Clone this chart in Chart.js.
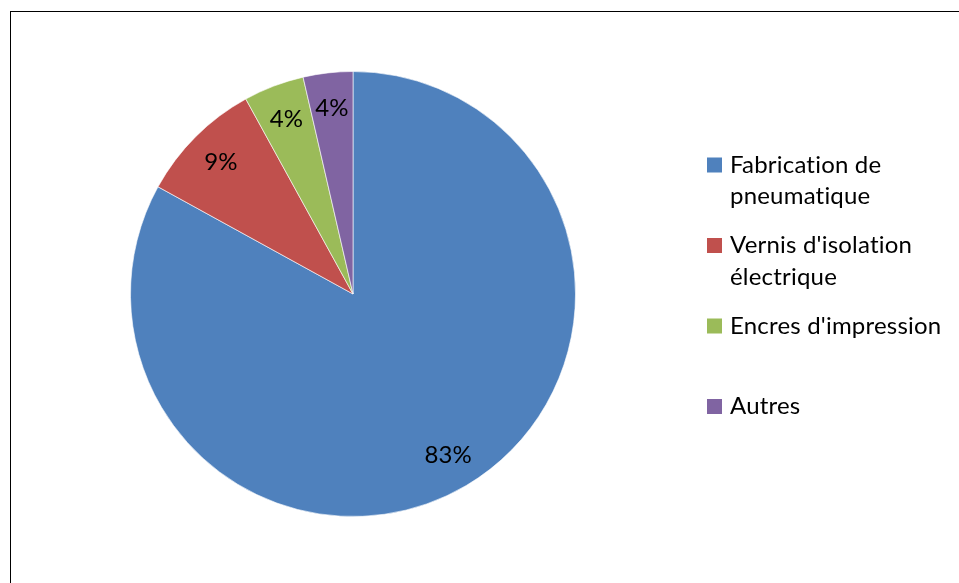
<!DOCTYPE html>
<html>
<head>
<meta charset="utf-8">
<script src="https://cdn.jsdelivr.net/npm/chart.js@4.4.1/dist/chart.umd.min.js"></script>
<style>
  html, body { margin: 0; padding: 0; background: #fff; overflow: hidden; }
  #wrap { position: relative; width: 959px; height: 583px; }
  #frame { position: absolute; left: 10px; top: 11px; width: 960px; height: 600px; border: 1.5px solid #000; box-sizing: border-box; }
  #c { position: absolute; left: 0; top: 0; }
</style>
</head>
<body>
<div id="wrap">
  <div id="frame"></div>
  <canvas id="c" width="959" height="583"></canvas>
</div>
<script>
// Data
const categories = [
  ["Fabrication de", "pneumatique"],
  ["Vernis d'isolation", "électrique"],
  ["Encres d'impression"],
  ["Autres"]
];
const shares = [83.0, 9.0, 4.4, 3.6];
const sliceColors = ["#4F81BD", "#C0504D", "#9BBB59", "#8064A2"];

const FONT = "Lato, 'Open Sans', sans-serif";

const labelPlugin = {
  id: 'sliceLabels',
  afterDatasetsDraw(chart) {
    const ctx = chart.ctx;
    const meta = chart.getDatasetMeta(0);
    const data = chart.data.datasets[0].data;
    const total = data.reduce((a, b) => a + b, 0);
    ctx.save();
    ctx.font = "24px " + FONT;
    ctx.fillStyle = "#000";
    ctx.textAlign = "center";
    ctx.textBaseline = "middle";
    meta.data.forEach((arc, i) => {
      const p = arc.getProps(['x', 'y', 'startAngle', 'endAngle', 'outerRadius'], true);
      const mid = (p.startAngle + p.endAngle) / 2;
      const r = p.outerRadius * 0.84;
      const x = p.x + Math.cos(mid) * r;
      const y = p.y + Math.sin(mid) * r;
      ctx.fillText(Math.round(data[i] / total * 100) + "%", x, y);
    });
    ctx.restore();
  }
};

const legendPlugin = {
  id: 'wrapLegend',
  afterDraw(chart) {
    const ctx = chart.ctx;
    const labels = chart.data.labels;
    const colors = chart.data.datasets[0].backgroundColor;
    const boxX = 707, textX = 730, box = 15;
    const startY = 165, itemGap = 80.5, lineGap = 31.5;
    ctx.save();
    ctx.font = "24px " + FONT;
    if ('letterSpacing' in ctx) ctx.letterSpacing = '0.2px';
    ctx.textAlign = "left";
    ctx.textBaseline = "middle";
    labels.forEach((lines, i) => {
      const yc = startY + i * itemGap;
      ctx.fillStyle = colors[i];
      ctx.fillRect(boxX, yc - box / 2, box, box);
      ctx.fillStyle = "#000";
      lines.forEach((t, j) => ctx.fillText(t, textX, yc + j * lineGap));
    });
    ctx.restore();
  }
};

new Chart(document.getElementById('c'), {
  type: 'pie',
  data: {
    labels: categories,
    datasets: [{
      data: shares,
      backgroundColor: sliceColors,
      borderColor: 'rgba(255,255,255,0.6)',
      borderWidth: 1
    }]
  },
  options: {
    responsive: false,
    animation: false,
    devicePixelRatio: 1,
    layout: { padding: { left: 130, right: 383, top: 71, bottom: 66 } },
    plugins: {
      legend: { display: false },
      tooltip: { enabled: false }
    }
  },
  plugins: [labelPlugin, legendPlugin]
});
</script>
</body>
</html>
